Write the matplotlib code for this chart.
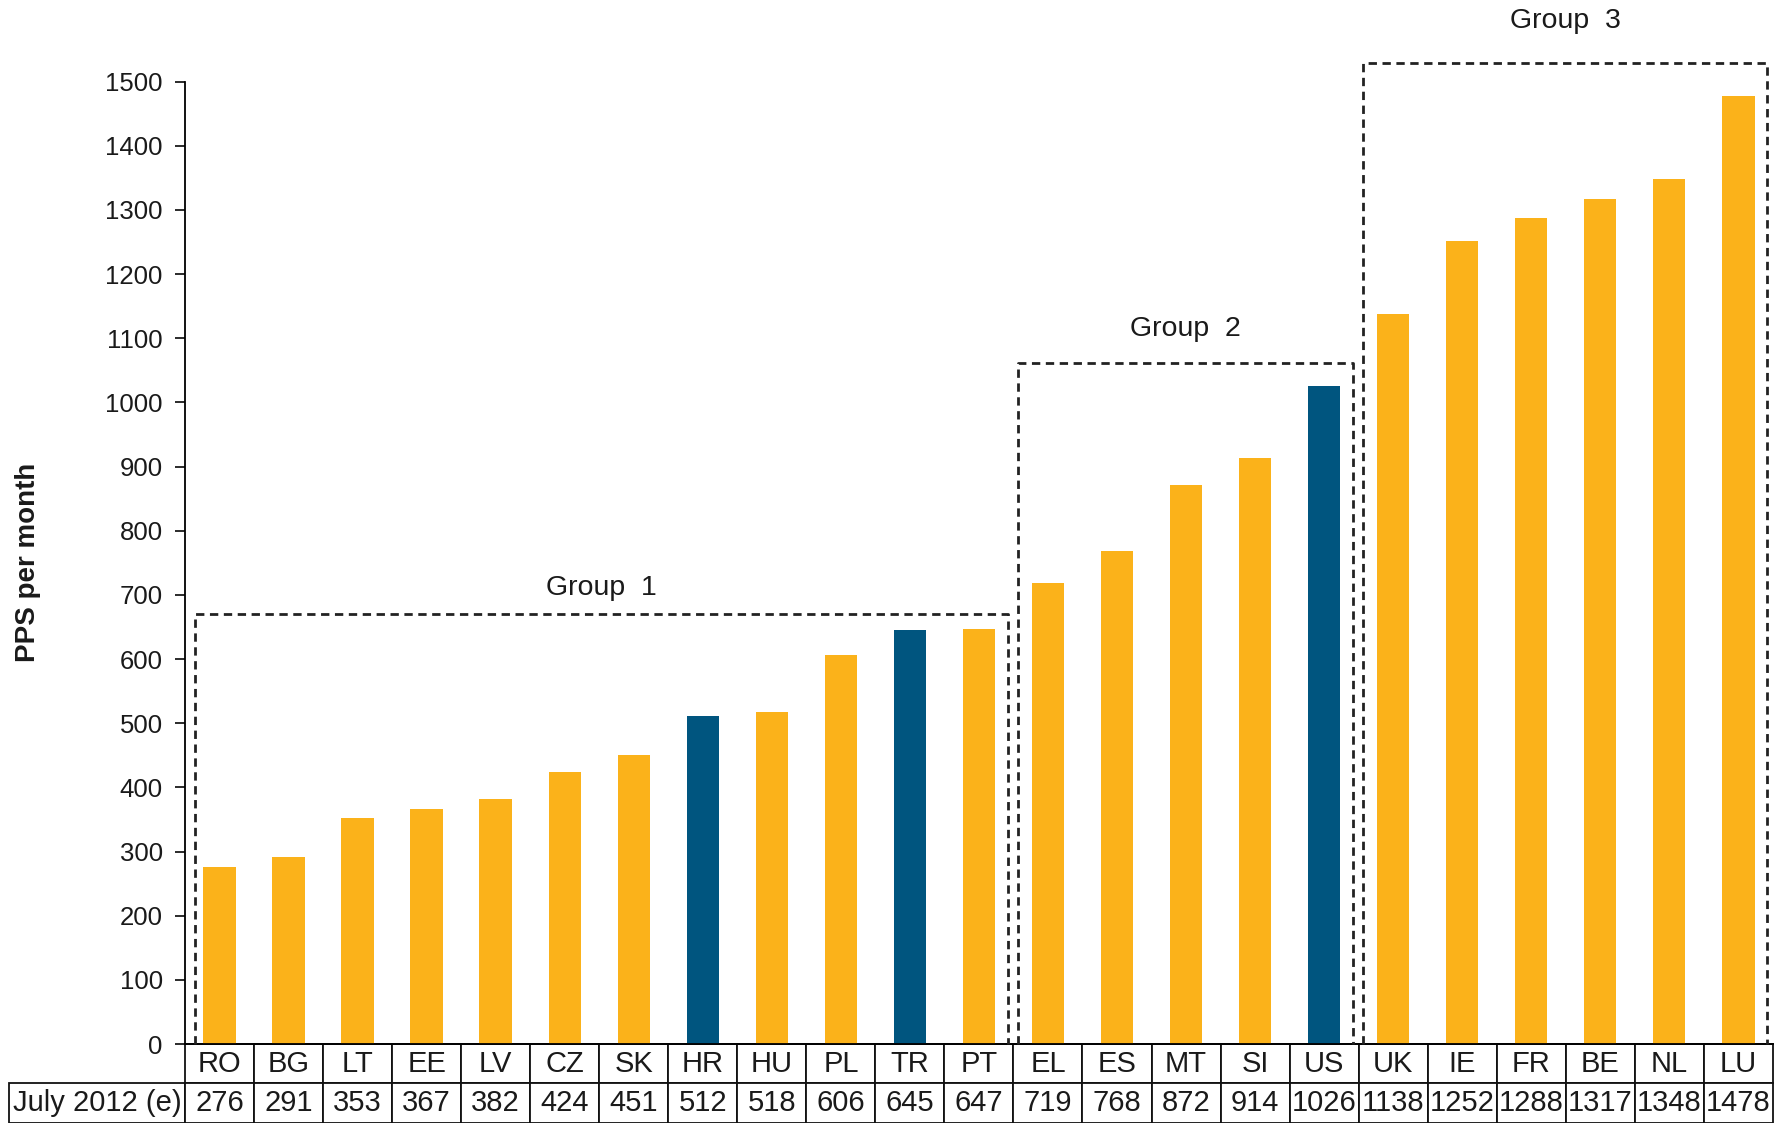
import matplotlib.pyplot as plt

# PPS per month, July 2012 (e)
countries = ['RO', 'BG', 'LT', 'EE', 'LV', 'CZ', 'SK', 'HR', 'HU', 'PL', 'TR', 'PT',
             'EL', 'ES', 'MT', 'SI', 'US',
             'UK', 'IE', 'FR', 'BE', 'NL', 'LU']
values = [276, 291, 353, 367, 382, 424, 451, 512, 518, 606, 645, 647,
          719, 768, 872, 914, 1026,
          1138, 1252, 1288, 1317, 1348, 1478]
highlighted = ['HR', 'TR', 'US']
row_label = 'July 2012 (e)'

group_names = ['Group  1', 'Group  2', 'Group  3']
group_first = ['RO', 'EL', 'UK']
group_last = ['PT', 'US', 'LU']

ORANGE = '#FBB21A'
BLUE = '#00557F'
TXT = '#1a1a1a'

plt.rcParams['font.family'] = ['Liberation Sans', 'DejaVu Sans']

fig = plt.figure(figsize=(17.76, 11.23), dpi=100)
ax = fig.add_axes([0.1042, 0.0703, 0.894, 0.857])

x = list(range(len(countries)))
colors = [BLUE if c in highlighted else ORANGE for c in countries]
ax.bar(x, values, width=0.47, color=colors, zorder=2)

ax.set_xlim(-0.5, len(countries) - 0.5)
ax.set_ylim(0, 1500)
ax.set_yticks(range(0, 1501, 100))
ax.tick_params(axis='y', labelsize=18.5, length=7, width=1.3, pad=9, colors=TXT)
ax.set_xticks([])
for s in ['top', 'right']:
    ax.spines[s].set_visible(False)
ax.spines['left'].set_linewidth(1.3)
ax.spines['bottom'].set_linewidth(1.3)
ax.set_ylabel('PPS per month', fontsize=20, fontweight='bold', color=TXT)
ax.yaxis.set_label_coords(-0.091, 0.5)

# dashed group boxes
label_gap = [19, 24, 30]
for name, a, b, gap in zip(group_names, group_first, group_last, label_gap):
    i0, i1 = countries.index(a), countries.index(b)
    top = max(values[i0:i1 + 1]) * 1.035
    x0 = max(i0 - 0.43, -0.35)
    x1 = i1 + 0.42
    ax.plot([x0, x0, x1, x1], [0, top, top, 0], ls=(0, (3, 2)), lw=2.0,
            color='#222222', clip_on=False, zorder=3)
    ax.annotate(name, xy=((x0 + x1) / 2, top), xytext=(0, gap),
                textcoords='offset points', ha='center', va='center',
                fontsize=20.5, color=TXT, annotation_clip=False)

# data table under the axis
cell_text = [[''] + countries, [row_label] + [str(v) for v in values]]
ncol = len(countries)
widths = [176.0] + [1588.0 / ncol] * ncol
tbl = ax.table(cellText=cell_text, colWidths=widths, cellLoc='center',
               bbox=[-0.1108, -0.0818, 1.1108, 0.0818])
tbl.auto_set_font_size(False)
tbl.set_fontsize(21)
for (r, c), cell in tbl.get_celld().items():
    cell.set_linewidth(1.3)
    cell.set_edgecolor('#111111')
    cell.get_text().set_fontfamily(['Liberation Sans Narrow', 'Liberation Sans'])
    cell.get_text().set_color(TXT)
tbl[0, 0].visible_edges = 'open'

fig.savefig('out.png', dpi=100)
